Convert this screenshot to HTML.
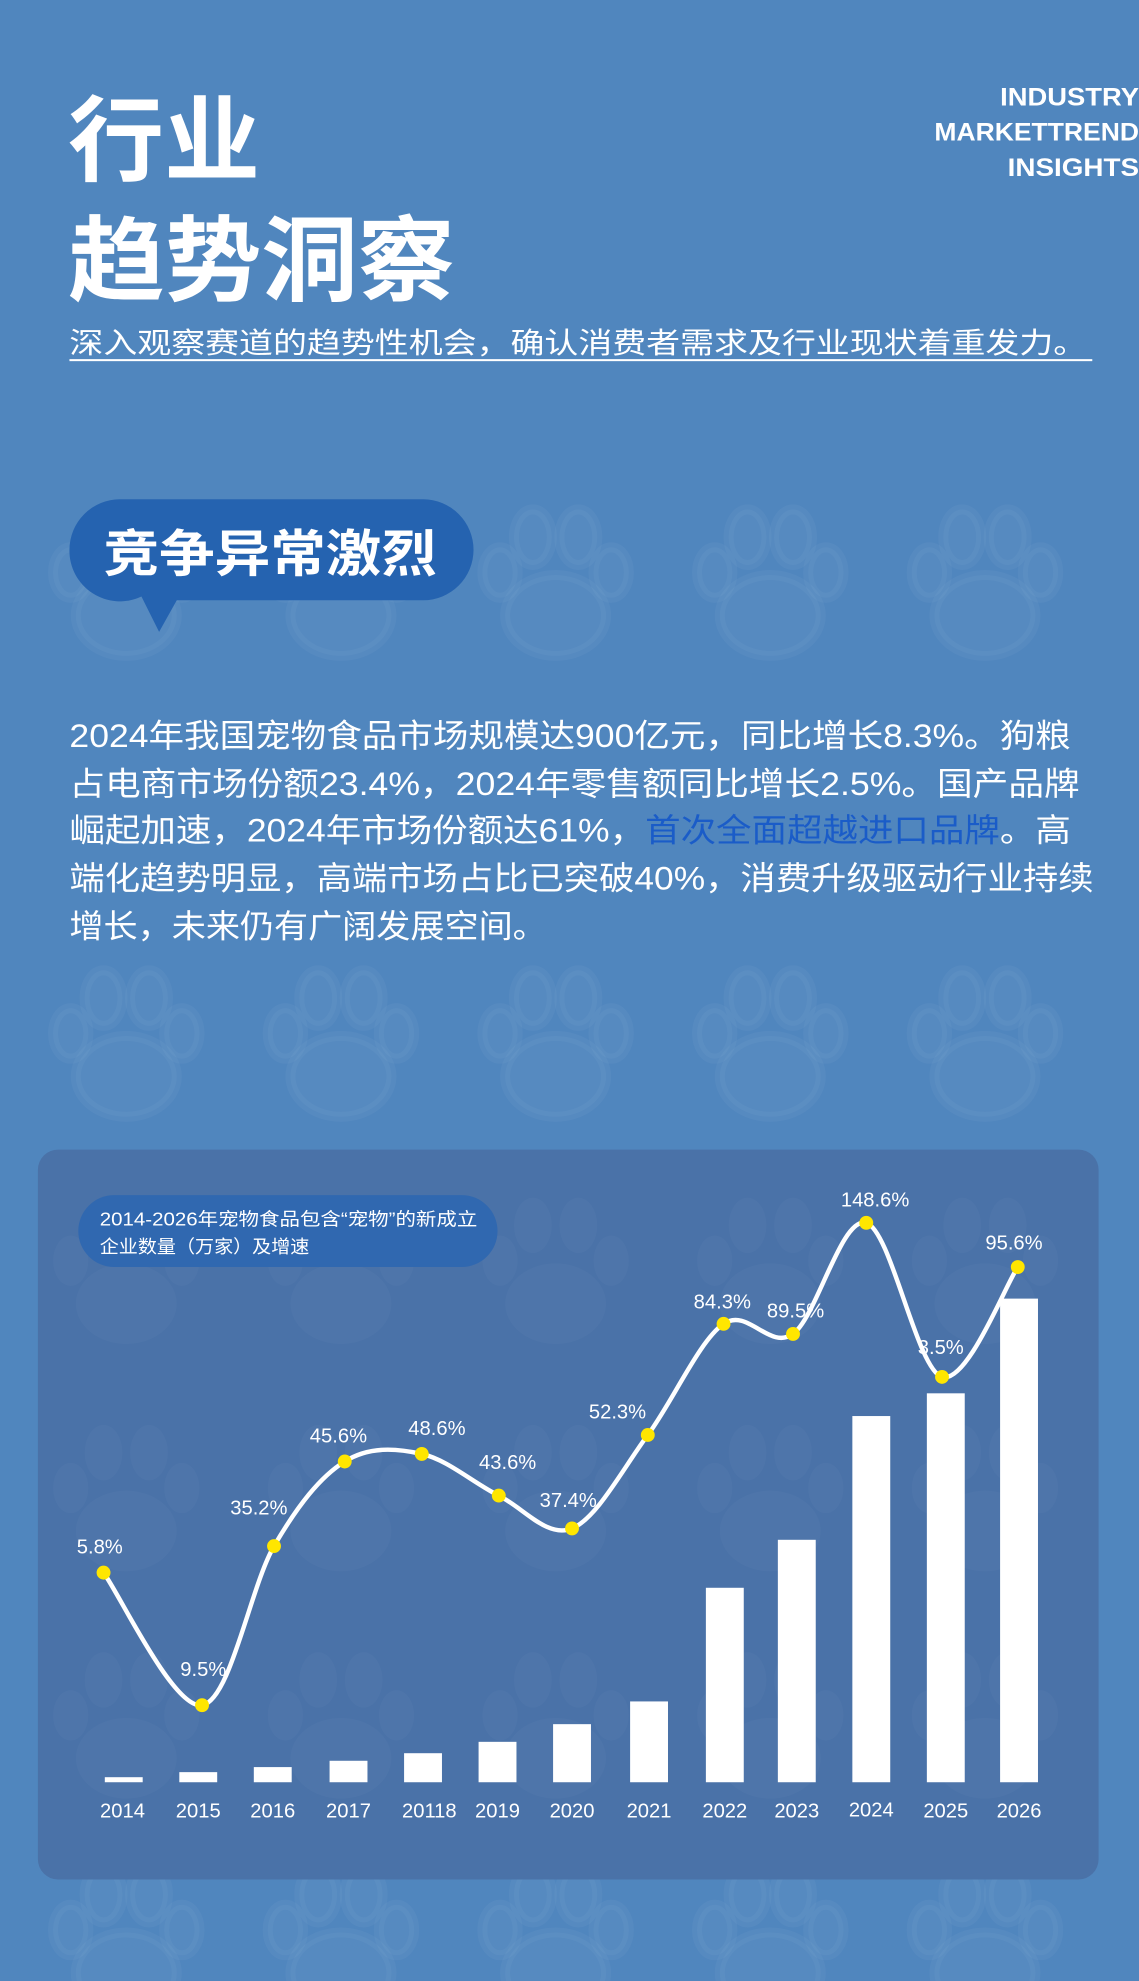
<!DOCTYPE html>
<html><head><meta charset="utf-8"><style>
html,body{margin:0;padding:0;background:#5086be;}
svg{display:block;}
text{font-family:"Liberation Sans","Noto Sans CJK SC",sans-serif;}
</style></head><body>
<svg width="1139" height="1981" viewBox="0 0 902 1568" xmlns="http://www.w3.org/2000/svg">
<defs>
<g id="paw">
<ellipse cx="0" cy="22" rx="40" ry="32"/>
<ellipse cx="-44" cy="-12" rx="14" ry="20"/>
<ellipse cx="-18" cy="-40" rx="15" ry="22"/>
<ellipse cx="18" cy="-40" rx="15" ry="22"/>
<ellipse cx="44" cy="-12" rx="14" ry="20"/>
</g>
</defs>
<rect width="902" height="1568" fill="#5086be"/>
<g fill="#ffffff" fill-opacity="0.035" stroke="#ffffff" stroke-opacity="0.035" stroke-width="8">
<use href="#paw" x="100" y="465"/><use href="#paw" x="270" y="465"/><use href="#paw" x="440" y="465"/><use href="#paw" x="610" y="465"/><use href="#paw" x="780" y="465"/>
<use href="#paw" x="100" y="830"/><use href="#paw" x="270" y="830"/><use href="#paw" x="440" y="830"/><use href="#paw" x="610" y="830"/><use href="#paw" x="780" y="830"/>
<use href="#paw" x="100" y="1540"/><use href="#paw" x="270" y="1540"/><use href="#paw" x="440" y="1540"/><use href="#paw" x="610" y="1540"/><use href="#paw" x="780" y="1540"/>
</g>

<text x="54" y="137" fill="#fff" font-size="74" font-weight="bold" textLength="152" lengthAdjust="spacingAndGlyphs">行业</text>
<text x="54" y="232" fill="#fff" font-size="74" font-weight="bold" textLength="306" lengthAdjust="spacingAndGlyphs">趋势洞察</text>
<g fill="#fff" font-size="20" font-weight="bold" text-anchor="end">
<text x="902" y="83" textLength="110" lengthAdjust="spacingAndGlyphs">INDUSTRY</text>
<text x="902" y="111" textLength="162" lengthAdjust="spacingAndGlyphs">MARKETTREND</text>
<text x="902" y="139" textLength="104" lengthAdjust="spacingAndGlyphs">INSIGHTS</text>
</g>
<text x="55" y="279" fill="#fff" font-size="23" textLength="806" lengthAdjust="spacingAndGlyphs">深入观察赛道的趋势性机会，确认消费者需求及行业现状着重发力。</text>
<rect x="55" y="284" width="810" height="1.6" fill="#fff"/>

<path d="M95 395 H335 A40 40 0 0 1 375 435 A40 40 0 0 1 335 475 H140 L126 500 L112 472 A40 40 0 0 1 55 435 A40 40 0 0 1 95 395 Z" fill="#2563b0"/>
<text x="82" y="452" fill="#fff" font-size="40" font-weight="bold" textLength="264" lengthAdjust="spacingAndGlyphs">竞争异常激烈</text>

<g fill="#fff" font-size="25.5">
<text x="55" y="591" textLength="793" lengthAdjust="spacingAndGlyphs">2024年我国宠物食品市场规模达900亿元，同比增长8.3%。狗粮</text>
<text x="55" y="629" textLength="800" lengthAdjust="spacingAndGlyphs">占电商市场份额23.4%，2024年零售额同比增长2.5%。国产品牌</text>
<text x="55" y="666" textLength="793" lengthAdjust="spacingAndGlyphs">崛起加速，2024年市场份额达61%，<tspan fill="#1a5cc8">首次全面超越进口品牌</tspan>。高</text>
<text x="55" y="704" textLength="811" lengthAdjust="spacingAndGlyphs">端化趋势明显，高端市场占比已突破40%，消费升级驱动行业持续</text>
<text x="55" y="742" textLength="378" lengthAdjust="spacingAndGlyphs">增长，未来仍有广阔发展空间。</text>
</g>

<rect x="30" y="910" width="840" height="578" rx="16" fill="#4a72a8"/>
<g fill="#ffffff" fill-opacity="0.025">
<use href="#paw" x="100" y="1010"/><use href="#paw" x="270" y="1010"/><use href="#paw" x="440" y="1010"/><use href="#paw" x="610" y="1010"/><use href="#paw" x="780" y="1010"/>
<use href="#paw" x="100" y="1190"/><use href="#paw" x="270" y="1190"/><use href="#paw" x="440" y="1190"/><use href="#paw" x="610" y="1190"/><use href="#paw" x="780" y="1190"/>
<use href="#paw" x="100" y="1370"/><use href="#paw" x="270" y="1370"/><use href="#paw" x="440" y="1370"/><use href="#paw" x="610" y="1370"/><use href="#paw" x="780" y="1370"/>
</g>
<rect x="62" y="946" width="332" height="57" rx="28.5" fill="#3068b0"/>
<text x="79" y="970" fill="#fff" font-size="14.5" textLength="299" lengthAdjust="spacingAndGlyphs">2014-2026年宠物食品包含“宠物”的新成立</text>
<text x="79" y="992" fill="#fff" font-size="14.5" textLength="166" lengthAdjust="spacingAndGlyphs">企业数量（万家）及增速</text>

<g fill="#fff">
<rect x="83" y="1407" width="30" height="4"/>
<rect x="142" y="1403" width="30" height="8"/>
<rect x="201" y="1399" width="30" height="12"/>
<rect x="261" y="1394" width="30" height="17"/>
<rect x="320" y="1388" width="30" height="23"/>
<rect x="379" y="1379" width="30" height="32"/>
<rect x="438" y="1365" width="30" height="46"/>
<rect x="499" y="1347" width="30" height="64"/>
<rect x="559" y="1257" width="30" height="154"/>
<rect x="616" y="1219" width="30" height="192"/>
<rect x="675" y="1121" width="30" height="290"/>
<rect x="734" y="1103" width="30" height="308"/>
<rect x="792" y="1028" width="30" height="383"/>
</g>
<g fill="#fff" font-size="16" text-anchor="middle">
<text x="97" y="1439">2014</text><text x="157" y="1439">2015</text><text x="216" y="1439">2016</text><text x="276" y="1439">2017</text><text x="340" y="1439">20118</text><text x="394" y="1439">2019</text><text x="453" y="1439">2020</text><text x="514" y="1439">2021</text><text x="574" y="1439">2022</text><text x="631" y="1439">2023</text><text x="690" y="1438">2024</text><text x="749" y="1439">2025</text><text x="807" y="1439">2026</text>
</g>
<path d="M82 1245 C95 1262.5 137.5 1353.5 160 1350 C182.5 1346.5 198.2 1256.2 217 1224 C235.8 1191.8 253.5 1169.2 273 1157 C292.5 1144.8 313.7 1146.5 334 1151 C354.3 1155.5 375.2 1174.2 395 1184 C414.8 1193.8 433.3 1218 453 1210 C472.7 1202 493 1163 513 1136 C533 1109 553.8 1061.3 573 1048 C592.2 1034.7 609.2 1069.3 628 1056 C646.8 1042.7 666.3 962.3 686 968 C705.7 973.7 726 1084.2 746 1090 C766 1095.8 796 1017.5 806 1003" fill="none" stroke="#fff" stroke-width="3.5"/>
<g fill="#ffe600">
<circle cx="82" cy="1245" r="5.5"/><circle cx="160" cy="1350" r="5.5"/><circle cx="217" cy="1224" r="5.5"/><circle cx="273" cy="1157" r="5.5"/><circle cx="334" cy="1151" r="5.5"/><circle cx="395" cy="1184" r="5.5"/><circle cx="453" cy="1210" r="5.5"/><circle cx="513" cy="1136" r="5.5"/><circle cx="573" cy="1048" r="5.5"/><circle cx="628" cy="1056" r="5.5"/><circle cx="686" cy="968" r="5.5"/><circle cx="746" cy="1090" r="5.5"/><circle cx="806" cy="1003" r="5.5"/>
</g>
<g fill="#fff" font-size="16" text-anchor="middle">
<text x="79" y="1230">5.8%</text><text x="161" y="1327">9.5%</text><text x="205" y="1199">35.2%</text><text x="268" y="1142">45.6%</text><text x="346" y="1136">48.6%</text><text x="402" y="1163">43.6%</text><text x="450" y="1193">37.4%</text><text x="489" y="1123">52.3%</text><text x="572" y="1036">84.3%</text><text x="630" y="1043">89.5%</text><text x="693" y="955">148.6%</text><text x="745" y="1072">3.5%</text><text x="803" y="989">95.6%</text>
</g>
</svg>
</body></html>
